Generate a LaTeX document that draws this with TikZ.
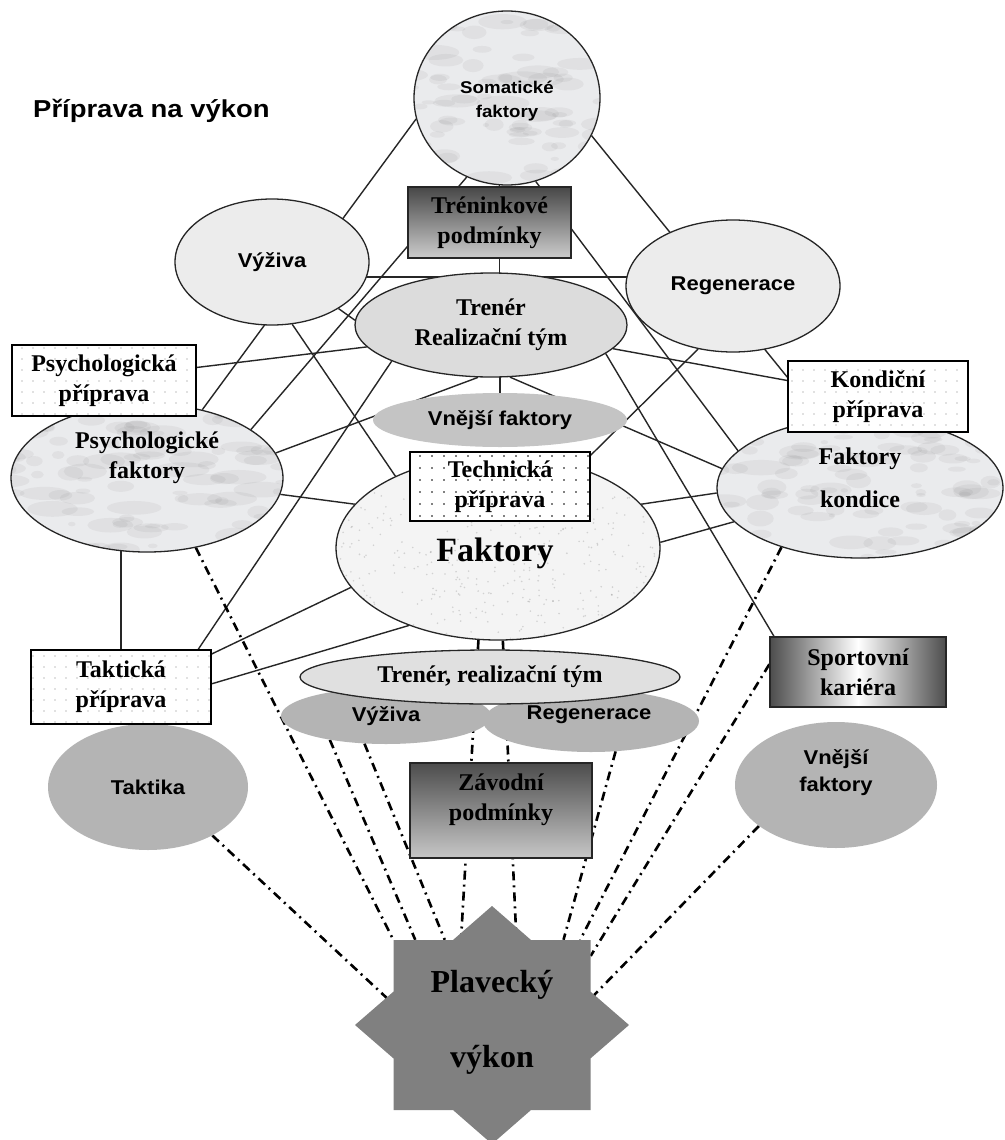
\documentclass[tikz,border=0pt]{standalone}
\usepackage{fontspec}
\setmainfont{Liberation Serif}
\newfontfamily\sansfam[FakeStretch=1.1]{Liberation Sans}
\newfontfamily\titlefam[FakeStretch=1.12]{Liberation Sans}
\usetikzlibrary{shapes.geometric,patterns.meta,backgrounds}
\definecolor{lightfill}{HTML}{ECECEC}
\definecolor{midfill}{HTML}{DCDCDC}
\definecolor{trtfill}{HTML}{E0E0E0}
\definecolor{vnfill}{HTML}{C4C4C4}
\definecolor{grayfill}{HTML}{B4B4B4}
\definecolor{starfill}{HTML}{808080}
\definecolor{marblefill}{HTML}{EAEBED}
\newcommand{\serifB}{\bfseries\fontsize{24}{30}\selectfont}
\newcommand{\sansB}{\sansfam\bfseries\fontsize{20}{27}\selectfont}
\newcommand{\sansS}{\sansfam\bfseries\fontsize{17}{24}\selectfont}
\begin{document}
\begin{tikzpicture}[x=1pt,y=-1pt,
  ell/.style={ellipse, draw=black!85, line width=1.3pt, inner sep=0pt, align=center},
  flat/.style={ellipse, draw=none, inner sep=0pt, align=center},
  marbled/.style={fill=marblefill, path picture={
     \pgfmathsetseed{#1}
     \foreach \k in {1,...,140}{
       \pgfmathsetmacro\mx{rand*150}
       \pgfmathsetmacro\my{rand*95}
       \pgfmathsetmacro\mr{2+6*rnd}
       \pgfmathsetmacro\mq{\mr*(1.5+2.5*rnd)}
       \pgfmathsetmacro\ma{20+30*rnd}
       \fill[black!75, opacity=0.06, rotate around={\ma:([shift={(\mx,\my)}]path picture bounding box.center)}] ([shift={(\mx,\my)}]path picture bounding box.center) ellipse [x radius=\mq pt, y radius=\mr pt];
     }}},
  granite/.style={fill=gray!9, path picture={
     \pgfmathsetseed{77}
     \foreach \k in {1,...,450}{
       \pgfmathsetmacro\mx{rand*165}
       \pgfmathsetmacro\my{rand*95}
       \fill[black, opacity=0.14] ([shift={(\mx,\my)}]path picture bounding box.center) circle [radius=0.9pt];
     }}},
  dotbox/.style={rectangle, draw=black, line width=1.3pt, inner sep=0pt, align=center,
     preaction={fill=white}, pattern={Dots[distance=11pt, radius=0.6pt]}, pattern color=black!50, font=\serifB},
  densedots/.style={pattern={Dots[distance=12pt, radius=0.9pt]}, pattern color=black},
  shadbox/.style={rectangle, draw=black!85, line width=1.3pt, inner sep=0pt, align=center, font=\serifB},
  txt/.style={inner sep=0pt, align=center},
  conn/.style={line width=1.4pt, black!85},
  dashdot/.style={line width=2.6pt, black, dash pattern=on 9pt off 5pt on 2pt off 5pt}
]
\useasboundingbox (0,0) rectangle (1004,1140);

% title
\node[anchor=west, inner sep=0pt, font=\titlefam\bfseries\fontsize{24.5}{28}\selectfont] (title) at (33,111) {Příprava na výkon};

% top group
\node[ell, marbled=11, minimum width=186pt, minimum height=174pt] (soma) at (507,98) {};
\node[txt, font=\sansS] (somat) at (507,101) {Somatické\\faktory};
\node[ell, fill=lightfill, minimum width=194pt, minimum height=126pt, font=\sansB] (vyz1) at (272,262) {Výživa};
\node[ell, fill=lightfill, minimum width=214pt, minimum height=132pt, font=\sansB] (reg1) at (733,286) {Regenerace};
\node[shadbox, top color=black!72, bottom color=black!20, minimum width=163pt, minimum height=71pt] (tren) at (489.5,222.5) {Tréninkové\\podmínky};
\node[ell, fill=midfill, minimum width=272pt, minimum height=104pt, font=\serifB] (trt) at (491,325) {Trenér\\Realizační tým};
\node[flat, fill=vnfill, minimum width=254pt, minimum height=54pt, font=\sansB] (vnf1) at (500,420) {Vnější faktory};

% left group
\node[ell, marbled=23, minimum width=272pt, minimum height=148pt] (psf) at (147,478) {};
\node[txt, font=\serifB] (psft) at (147,458) {Psychologické\\faktory};
\node[dotbox, minimum width=184pt, minimum height=71pt] (psp) at (104,380.5) {Psychologická\\příprava};

% right group
\node[ell, marbled=37, minimum width=286pt, minimum height=140pt] (fkk) at (860,488) {};
\node[txt, font=\bfseries\fontsize{24}{43}\selectfont] (fkkt) at (860,478) {Faktory\\kondice};
\node[dotbox, minimum width=180pt, minimum height=71pt] (kop) at (878,396.5) {Kondiční\\příprava};

% centre
\node[ell, granite, minimum width=324pt, minimum height=184pt] (fak) at (498,548) {};
\node[txt, font=\bfseries\fontsize{34}{40}\selectfont] (fakt) at (495,553) {Faktory};
\node[dotbox, densedots, minimum width=180pt, minimum height=69pt] (tep) at (500,486.5) {Technická\\příprava};

% lower group
\node[flat, fill=grayfill, minimum width=210pt, minimum height=56pt, font=\sansB] (vyz2) at (386,716) {Výživa};
\node[flat, fill=grayfill, minimum width=216pt, minimum height=62pt] (reg2) at (591,721) {};
\node[txt, font=\sansB] (reg2t) at (589,715) {Regenerace};
\node[ell, fill=trtfill, minimum width=380pt, minimum height=54pt, font=\serifB] (trt2) at (490,677) {Trenér, realizační tým};
\node[flat, fill=grayfill, minimum width=200pt, minimum height=126pt, font=\sansB] (tak) at (148,787) {Taktika};
\node[dotbox, minimum width=180pt, minimum height=74pt] (tap) at (121,687) {Taktická\\příprava};
\node[flat, fill=grayfill, minimum width=202pt, minimum height=126pt] (vnf2) at (836,785) {};
\node[txt, font=\sansB] (vnf2t) at (836,773) {Vnější\\faktory};
\node[shadbox, left color=black!70, right color=black!70, middle color=white, minimum width=176pt, minimum height=70pt] (spk) at (858,672) {Sportovní\\kariéra};
\node[shadbox, top color=black!70, bottom color=black!22, minimum width=182pt, minimum height=95pt] (zav) at (501,810.5) {};
\node[txt, font=\serifB] (zavt) at (501,800) {Závodní\\podmínky};

% star
\node[inner sep=0pt, minimum width=197pt, minimum height=170pt] (star) at (492,1025) {};
\fill[starfill] ([shift={(0,-119)}]star.center) -- ([shift={(39,-85)}]star.center) -- ([shift={(98.5,-85)}]star.center)
  -- ([shift={(98.5,-33.4)}]star.center) -- ([shift={(137,0)}]star.center) -- ([shift={(98.5,33.4)}]star.center)
  -- ([shift={(98.5,85)}]star.center) -- ([shift={(39,85)}]star.center) -- ([shift={(0,119)}]star.center)
  -- ([shift={(-39,85)}]star.center) -- ([shift={(-98.5,85)}]star.center) -- ([shift={(-98.5,33.4)}]star.center)
  -- ([shift={(-137,0)}]star.center) -- ([shift={(-98.5,-33.4)}]star.center) -- ([shift={(-98.5,-85)}]star.center)
  -- ([shift={(-39,-85)}]star.center) -- cycle;
\node[txt, font=\bfseries\fontsize{32}{75}\selectfont] (start) at (492,1022) {Plavecký\\výkon};

\begin{scope}[on background layer]
  \fill[white] (0,0) rectangle (1004,1140);
  % solid connectors
  \draw[conn] (soma.193) -- (psf.51);
  \draw[conn] (soma.243) -- (psf.25);
  \draw[conn] (vyz1.-35) -- (trt.178);
  \draw[conn] (psp.8) -- (trt.190);
  \draw[conn] (trt.200) -- (tap.26);
  \draw[conn] (vyz1.-72) -- (fak.145);
  \draw[conn] (psf.11) -- (trt.256);
  \draw[conn] (psf.-7) -- (fak.163);
  \draw[conn] (tap.center) -- (tap.center |- psf.center);
  \draw[conn] (tap.20) -- (fak.195);
  \draw[conn] (tap.2) -- (fak.221);
  \draw[conn] (soma.-24) -- (kop.168);
  \draw[conn] (soma.-71) -- (fkk.163);
  \draw[conn] (trt.-11) -- (kop.170);
  \draw[conn] (trt.-14) -- (spk.157);
  \draw[conn] (reg1.241) -- (tep.19);
  \draw[conn] (trt.-70) -- (fkk.172);
  \draw[conn] (fak.17) -- (fkk.182);
  \draw[conn] (fak.2) -- (fkk.195);
  \draw[conn] ([yshift=-15pt]vyz1.center) -- ([yshift=9pt]reg1.center);
  \draw[conn] ([xshift=10pt]tren.north) -- ([xshift=10pt]tren.north |- soma.center);
  \draw[conn] ([xshift=10pt]tren.south) -- ([xshift=10pt]tren.south |- trt.center);
  \draw[conn] (vnf1.center) -- (vnf1.center |- trt.center);
  \draw[conn] (fak.258) -- (fak.258 |- trt2.center);
  % dash-dot connectors to the star
  \draw[dashdot] (psf.-55) -- (star.north west);
  \draw[dashdot] (vyz2.203) -- (star.132);
  \draw[dashdot] (vyz2.232) -- (star.119);
  \draw[dashdot] (tak.-37) -- (star.168);
  \draw[dashdot] (fak.258) -- (star.110);
  \draw[dashdot] (fak.-87) -- (star.74);
  \draw[dashdot] (reg2.-51) -- (star.50);
  \draw[dashdot] (fkk.217) -- (star.44);
  \draw[dashdot] (spk.175) -- (star.35);
  \draw[dashdot] (vnf2.208) -- (star.15);
\end{scope}
\end{tikzpicture}
\end{document}
